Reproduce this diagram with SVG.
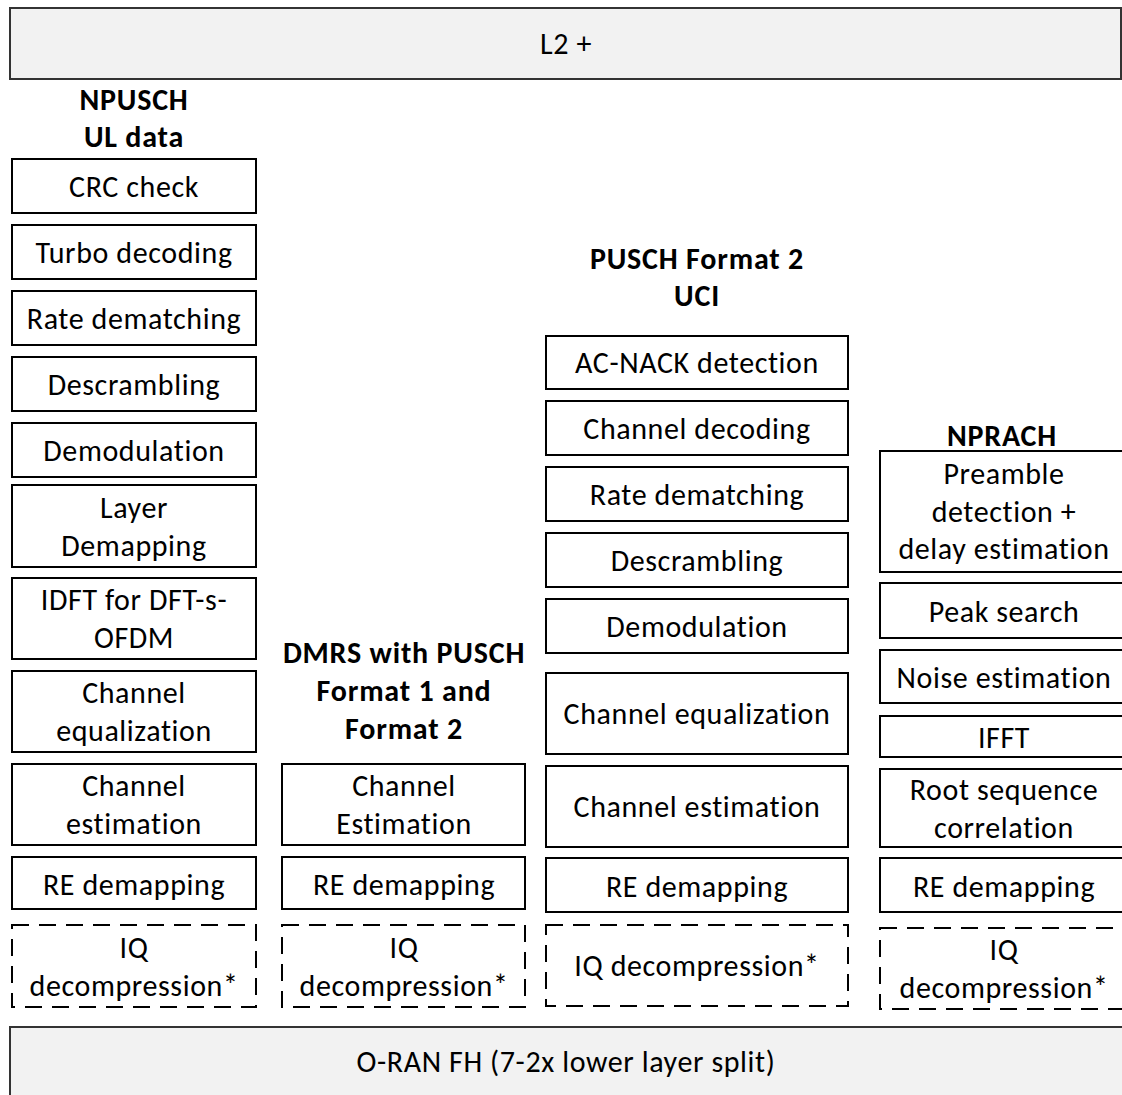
<svg xmlns="http://www.w3.org/2000/svg" width="1122" height="1095" viewBox="0 0 1122 1095">
  <style>
    text { font-family: Carlito, Lato, "Liberation Sans", sans-serif; font-size: 30px; letter-spacing: 0.6px; fill: #000; text-anchor: middle; }
    .title { font-weight: bold; letter-spacing: 0.8px; }
    .box { fill: #fff; stroke: #000; stroke-width: 2; }
    .dash { fill: #fff; stroke: #000; stroke-width: 2; stroke-dasharray: 17 10; }
    .bar { fill: #f2f2f2; stroke: #333; stroke-width: 2; }
  </style>
  <rect width="1122" height="1095" fill="#fff"/>

  <!-- Upper layer bar -->
  <g id="l2">
    <rect class="bar" x="10" y="8" width="1111" height="71"/>
    <text x="566" y="54">L2 +</text>
  </g>

  <!-- Column 1: NPUSCH UL data chain -->
  <g id="npusch">
    <text class="title" x="134" y="110">NPUSCH</text>
    <text class="title" x="134" y="147">UL data</text>
  </g>
  <g id="npusch-crc"><rect class="box" x="12" y="159" width="244" height="54"/><text x="134" y="197">CRC check</text></g>
  <g id="npusch-turbo"><rect class="box" x="12" y="225" width="244" height="54"/><text x="134" y="263">Turbo decoding</text></g>
  <g id="npusch-rate"><rect class="box" x="12" y="291" width="244" height="54"/><text x="134" y="329">Rate dematching</text></g>
  <g id="npusch-descr"><rect class="box" x="12" y="357" width="244" height="54"/><text x="134" y="395">Descrambling</text></g>
  <g id="npusch-demod"><rect class="box" x="12" y="423" width="244" height="54"/><text x="134" y="461">Demodulation</text></g>
  <g id="npusch-layer"><rect class="box" x="12" y="485" width="244" height="82"/><text x="134" y="518">Layer</text><text x="134" y="556">Demapping</text></g>
  <g id="npusch-idft"><rect class="box" x="12" y="578" width="244" height="81"/><text x="134" y="610">IDFT for DFT-s-</text><text x="134" y="648">OFDM</text></g>
  <g id="npusch-cheq"><rect class="box" x="12" y="671" width="244" height="81"/><text x="134" y="703">Channel</text><text x="134" y="741">equalization</text></g>
  <g id="npusch-chest"><rect class="box" x="12" y="764" width="244" height="81"/><text x="134" y="796">Channel</text><text x="134" y="834">estimation</text></g>
  <g id="npusch-re"><rect class="box" x="12" y="857" width="244" height="52"/><text x="134" y="895">RE demapping</text></g>
  <g id="npusch-iq"><rect class="dash" x="12" y="925" width="244" height="82"/><text x="134" y="958">IQ</text><text x="134" y="996">decompression*</text></g>

  <!-- Column 2: DMRS -->
  <g id="dmrs">
    <text class="title" x="404" y="663">DMRS with PUSCH</text>
    <text class="title" x="404" y="701">Format 1 and</text>
    <text class="title" x="404" y="739">Format 2</text>
  </g>
  <g id="dmrs-chest"><rect class="box" x="282" y="764" width="243" height="81"/><text x="404" y="796">Channel</text><text x="404" y="834">Estimation</text></g>
  <g id="dmrs-re"><rect class="box" x="282" y="857" width="243" height="52"/><text x="404" y="895">RE demapping</text></g>
  <g id="dmrs-iq"><rect class="dash" x="282" y="925" width="243" height="82"/><text x="404" y="958">IQ</text><text x="404" y="996">decompression*</text></g>

  <!-- Column 3: PUSCH Format 2 UCI -->
  <g id="uci">
    <text class="title" x="697" y="269">PUSCH Format 2</text>
    <text class="title" x="697" y="306">UCI</text>
  </g>
  <g id="uci-ack"><rect class="box" x="546" y="336" width="302" height="53"/><text x="697" y="373">AC-NACK detection</text></g>
  <g id="uci-dec"><rect class="box" x="546" y="401" width="302" height="54"/><text x="697" y="439">Channel decoding</text></g>
  <g id="uci-rate"><rect class="box" x="546" y="467" width="302" height="54"/><text x="697" y="505">Rate dematching</text></g>
  <g id="uci-descr"><rect class="box" x="546" y="533" width="302" height="54"/><text x="697" y="571">Descrambling</text></g>
  <g id="uci-demod"><rect class="box" x="546" y="599" width="302" height="54"/><text x="697" y="637">Demodulation</text></g>
  <g id="uci-cheq"><rect class="box" x="546" y="673" width="302" height="81"/><text x="697" y="724">Channel equalization</text></g>
  <g id="uci-chest"><rect class="box" x="546" y="766" width="302" height="81"/><text x="697" y="817">Channel estimation</text></g>
  <g id="uci-re"><rect class="box" x="546" y="858" width="302" height="54"/><text x="697" y="897">RE demapping</text></g>
  <g id="uci-iq"><rect class="dash" x="546" y="925" width="302" height="81"/><text x="697" y="976">IQ decompression*</text></g>

  <!-- Column 4: NPRACH -->
  <g id="nprach">
    <text class="title" x="1002" y="446">NPRACH</text>
  </g>
  <g id="nprach-pre"><rect class="box" x="880" y="451" width="244" height="121"/><text x="1004" y="484">Preamble</text><text x="1004" y="522">detection +</text><text x="1004" y="559">delay estimation</text></g>
  <g id="nprach-peak"><rect class="box" x="880" y="583" width="244" height="55"/><text x="1004" y="622">Peak search</text></g>
  <g id="nprach-noise"><rect class="box" x="880" y="650" width="244" height="53"/><text x="1004" y="688">Noise estimation</text></g>
  <g id="nprach-ifft"><rect class="box" x="880" y="716" width="244" height="41"/><text x="1004" y="748">IFFT</text></g>
  <g id="nprach-root"><rect class="box" x="880" y="769" width="244" height="78"/><text x="1004" y="800">Root sequence</text><text x="1004" y="838">correlation</text></g>
  <g id="nprach-re"><rect class="box" x="880" y="858" width="244" height="54"/><text x="1004" y="897">RE demapping</text></g>
  <g id="nprach-iq"><rect class="dash" x="880" y="928" width="244" height="81"/><text x="1004" y="960">IQ</text><text x="1004" y="998">decompression*</text></g>

  <!-- Fronthaul bar -->
  <g id="fh">
    <rect class="bar" x="10" y="1027" width="1120" height="80"/>
    <text x="566" y="1072">O-RAN FH (7-2x lower layer split)</text>
  </g>

  <g id="connectors"/>
</svg>
